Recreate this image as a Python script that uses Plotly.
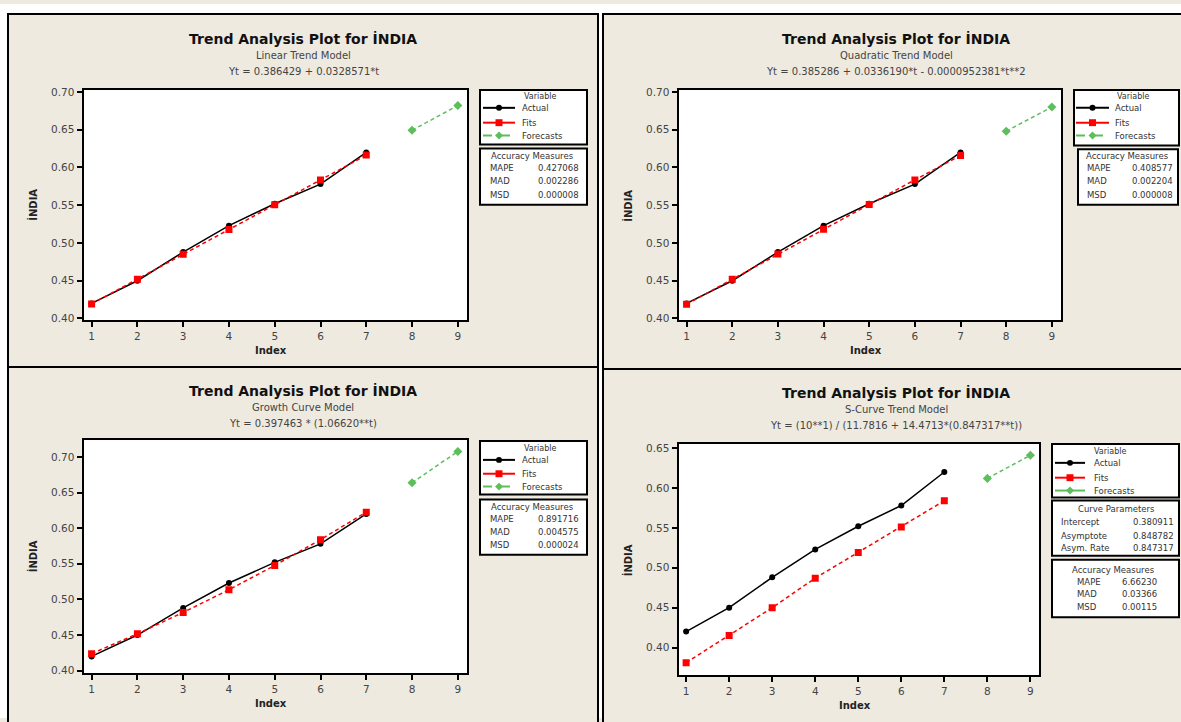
import plotly.graph_objects as go

W, H = 1181, 722

# ---------------- data ----------------
index_fit = [1, 2, 3, 4, 5, 6, 7]
index_fc = [8, 9]
actual = [0.420, 0.450, 0.488, 0.523, 0.552, 0.578, 0.620]

linear_fits = [0.4193, 0.4521, 0.4850, 0.5179, 0.5507, 0.5836, 0.6164]
linear_fc = [0.6493, 0.6821]
quad_fits = [0.4188, 0.4521, 0.4853, 0.5182, 0.5510, 0.5836, 0.6160]
quad_fc = [0.6481, 0.6801]
growth_fits = [0.4238, 0.4518, 0.4817, 0.5136, 0.5476, 0.5839, 0.6225]
growth_fc = [0.6638, 0.7077]
scurve_fits = [0.381, 0.415, 0.450, 0.487, 0.519, 0.551, 0.584]
scurve_fc = [0.612, 0.641]

x_ticks = [1, 2, 3, 4, 5, 6, 7, 8, 9]
y_ticks_a = [0.40, 0.45, 0.50, 0.55, 0.60, 0.65, 0.70]
y_ticks_b = [0.40, 0.45, 0.50, 0.55, 0.60, 0.65]

models = ["Linear Trend Model", "Quadratic Trend Model", "Growth Curve Model", "S-Curve Trend Model"]
equations = [
    "Yt = 0.386429 + 0.0328571*t",
    "Yt = 0.385286 + 0.0336190*t - 0.0000952381*t**2",
    "Yt = 0.397463 * (1.06620**t)",
    "Yt = (10**1) / (11.7816 + 14.4713*(0.847317**t))",
]
acc_labels = ["MAPE", "MAD", "MSD"]
acc_values = [
    ["0.427068", "0.002286", "0.000008"],
    ["0.408577", "0.002204", "0.000008"],
    ["0.891716", "0.004575", "0.000024"],
    ["6.66230", "0.03366", "0.00115"],
]
curve_labels = ["Intercept", "Asymptote", "Asym. Rate"]
curve_values = ["0.380911", "0.848782", "0.847317"]
series_names = ["Actual", "Fits", "Forecasts"]

fits_all = [linear_fits, quad_fits, growth_fits, scurve_fits]
fc_all = [linear_fc, quad_fc, growth_fc, scurve_fc]

# ---------------- styling ----------------
BEIGE = "#EEEAE0"
RED = "#FF0000"
GREEN = "#5CBF5C"
FONT = "DejaVu Sans"

def px(x):
    return x / W

def py(y):
    return 1 - y / H

# plot-area boxes in pixels: (left, right, top, bottom)
boxes = [
    (83.5, 467, 87, 320),
    (678.5, 1061, 87, 320),
    (83.5, 467, 441, 677),
    (678.5, 1039, 445, 679),
]
y_ranges = [[0.3974, 0.7026], [0.3974, 0.7026], [0.396, 0.7236], [0.365, 0.655]]
y_tickset = [y_ticks_a, y_ticks_a, y_ticks_a, y_ticks_b]
panel_cx = [303, 896, 303, 896]
title_y = [35, 35, 391, 393]

fig = go.Figure()
layout = dict(
    width=W, height=H,
    margin=dict(l=0, r=0, t=0, b=0),
    paper_bgcolor=BEIGE,
    plot_bgcolor="white",
    showlegend=False,
    font=dict(family=FONT, color="#333"),
)

shapes = []
annotations = []

for i in range(4):
    n = "" if i == 0 else str(i + 1)
    l, r, t, b = boxes[i]
    layout["xaxis" + n] = dict(
        domain=[px(l), px(r)], anchor="y" + n, range=[0.823, 9.2],
        tickvals=x_ticks, ticks="outside", ticklen=5, tickwidth=2, tickcolor="black",
        showline=True, linewidth=2, linecolor="black", mirror=True,
        showgrid=False, zeroline=False, tickfont=dict(size=10.5, color="#444", family=FONT),
    )
    layout["yaxis" + n] = dict(
        domain=[py(b), py(t)], anchor="x" + n, range=y_ranges[i],
        tickvals=y_tickset[i], tickformat=".2f", ticks="outside", ticklen=5, tickwidth=2,
        tickcolor="black", showline=True, linewidth=2, linecolor="black", mirror=True,
        showgrid=False, zeroline=False, tickfont=dict(size=10.5, color="#444", family=FONT),
    )
    xa, ya = "x" + n, "y" + n
    fig.add_trace(go.Scatter(
        x=index_fit, y=actual, name="Actual", xaxis=xa, yaxis=ya, mode="lines+markers",
        line=dict(color="black", width=1.5), marker=dict(symbol="circle", size=6, color="black"),
    ))
    fig.add_trace(go.Scatter(
        x=index_fit, y=fits_all[i], name="Fits", xaxis=xa, yaxis=ya, mode="lines+markers",
        line=dict(color=RED, width=1.5, dash="4px,3px"), marker=dict(symbol="square", size=7, color=RED),
    ))
    fig.add_trace(go.Scatter(
        x=index_fc, y=fc_all[i], name="Forecasts", xaxis=xa, yaxis=ya, mode="lines+markers",
        line=dict(color=GREEN, width=1.5, dash="4px,3px"), marker=dict(symbol="diamond", size=7, color=GREEN),
    ))

    # titles
    cx = panel_cx[i]
    ty = title_y[i]
    annotations.append(dict(text="<b>Trend Analysis Plot for İNDIA</b>", x=px(cx), y=py(ty),
                            xref="paper", yref="paper", showarrow=False, xanchor="center", yanchor="middle",
                            font=dict(size=14, color="#111", family=FONT)))
    annotations.append(dict(text=models[i], x=px(cx), y=py(ty + 17), xref="paper", yref="paper",
                            showarrow=False, xanchor="center", yanchor="middle",
                            font=dict(size=10, color="#444", family=FONT)))
    annotations.append(dict(text=equations[i], x=px(cx), y=py(ty + 33), xref="paper", yref="paper",
                            showarrow=False, xanchor="center", yanchor="middle",
                            font=dict(size=10, color="#444", family=FONT)))
    # axis titles
    annotations.append(dict(text="<b>İNDIA</b>", x=px(l - 51), y=py((t + b) / 2), xref="paper", yref="paper",
                            showarrow=False, textangle=-90, xanchor="center", yanchor="middle",
                            font=dict(size=10, color="#222", family=FONT)))
    annotations.append(dict(text="<b>Index</b>", x=px((l + r) / 2 - 4), y=py(b + 30), xref="paper", yref="paper",
                            showarrow=False, xanchor="center", yanchor="middle",
                            font=dict(size=10, color="#222", family=FONT)))

# ---------------- panel frames ----------------
def rect(x0, y0, x1, y1, fill=None, lw=2, color="black", layer="above"):
    return dict(type="rect", xref="paper", yref="paper", x0=px(x0), x1=px(x1), y0=py(y1), y1=py(y0),
                line=dict(color=color, width=lw), fillcolor=fill if fill else "rgba(0,0,0,0)", layer=layer)

# white outside strips
shapes.append(dict(type="rect", xref="paper", yref="paper", x0=0, x1=px(7), y0=0, y1=1,
                   line=dict(width=0), fillcolor="white", layer="below"))
shapes.append(dict(type="rect", xref="paper", yref="paper", x0=0, x1=1, y0=py(9), y1=1,
                   line=dict(width=0), fillcolor="white", layer="below"))
shapes.append(dict(type="rect", xref="paper", yref="paper", x0=px(598), x1=px(603), y0=0, y1=py(9),
                   line=dict(width=0), fillcolor="white", layer="below"))
shapes.append(rect(8, 10, 598, 367))
shapes.append(rect(603, 10, 1195, 369))
shapes.append(rect(8, 367, 598, 740))
shapes.append(rect(603, 369, 1195, 740))

# ---------------- legend / info boxes ----------------
def text(s, x, y, anchor="left", size=8.5, color="#333"):
    annotations.append(dict(text=s, x=px(x), y=py(y), xref="paper", yref="paper", showarrow=False,
                            xanchor=anchor, yanchor="middle", font=dict(size=size, color=color, family=FONT)))

def legend_box(x0, y0, x1, y1, rows_y, line_x0, line_x1, text_x, var_cx, var_y, fc_dash):
    shapes.append(rect(x0, y0, x1, y1, fill="white"))
    text("Variable", var_cx, var_y, anchor="center", size=8)
    colors = ["black", RED, GREEN]
    dashes = ["solid", "solid", "dash" if fc_dash else "solid"]
    mx = (line_x0 + line_x1) / 2
    for k in range(3):
        yy = rows_y[k]
        shapes.append(dict(type="line", xref="paper", yref="paper", x0=px(line_x0), x1=px(line_x1),
                           y0=py(yy), y1=py(yy), line=dict(color=colors[k], width=2, dash=dashes[k])))
        if k == 0:
            shapes.append(dict(type="circle", xref="paper", yref="paper", x0=px(mx - 3), x1=px(mx + 3),
                               y0=py(yy + 3), y1=py(yy - 3), line=dict(width=0), fillcolor="black"))
        elif k == 1:
            shapes.append(dict(type="rect", xref="paper", yref="paper", x0=px(mx - 3.5), x1=px(mx + 3.5),
                               y0=py(yy + 3.5), y1=py(yy - 3.5), line=dict(width=0), fillcolor=RED))
        else:
            path = "M {} {} L {} {} L {} {} L {} {} Z".format(
                px(mx), py(yy - 4), px(mx + 4), py(yy), px(mx), py(yy + 4), px(mx - 4), py(yy))
            shapes.append(dict(type="path", xref="paper", yref="paper", path=path,
                               line=dict(width=0), fillcolor=GREEN))
        text(series_names[k], text_x, yy)

def acc_box(x0, y0, x1, y1, head_y, head_cx, row_ys, label_x, value_x, vals):
    shapes.append(rect(x0, y0, x1, y1, fill="white"))
    text("Accuracy Measures", head_cx, head_y, anchor="center")
    for k in range(3):
        text(acc_labels[k], label_x, row_ys[k])
        text(vals[k], value_x, row_ys[k])

# panel 1
legend_box(480, 87, 587, 142, [105, 120, 133], 483, 515, 520, 540, 94, True)
acc_box(480, 146, 587, 203, 154, 532, [166, 179, 193], 488, 536, acc_values[0])
# panel 2
legend_box(1074, 87, 1179, 143, [105, 120, 133], 1076, 1109, 1113, 1133, 94, True)
acc_box(1078, 147, 1178, 203, 154, 1127, [166, 179, 193], 1085, 1130, acc_values[1])
# panel 3
legend_box(480, 442, 587, 496, [461, 475, 488], 483, 515, 520, 540, 449, True)
acc_box(480, 501, 587, 557, 509, 532, [521, 534, 547], 488, 536, acc_values[2])
# panel 4
legend_box(1052, 445, 1179, 499, [464, 479, 492], 1055, 1085, 1092, 1110, 453, False)
shapes.append(rect(1052, 502, 1179, 558, fill="white"))
text("Curve Parameters", 1116, 511, anchor="center")
for k, yy in enumerate([524, 538, 550]):
    text(curve_labels[k], 1059, yy)
    text(curve_values[k], 1131, yy)
shapes.append(rect(1052, 562, 1179, 620, fill="white"))
text("Accuracy Measures", 1113, 572, anchor="center")
for k, yy in enumerate([584, 597, 610]):
    text(acc_labels[k], 1075, yy)
    text(acc_values[3][k], 1120, yy)

layout["shapes"] = shapes
layout["annotations"] = annotations
fig.update_layout(**layout)
fig.write_html(
    "out.html",
    config={"displayModeBar": False},
    post_script="document.body.style.margin='0px';document.body.style.overflow='hidden';",
)
